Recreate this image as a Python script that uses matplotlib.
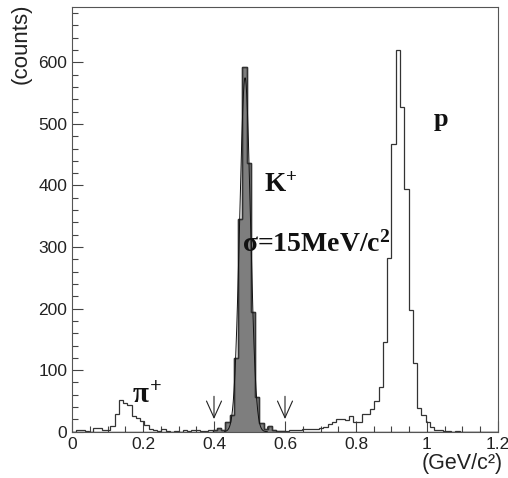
import matplotlib
matplotlib.use("Agg")
import matplotlib.pyplot as plt
import numpy as np

plt.rcParams["mathtext.fontset"] = "custom"
plt.rcParams["mathtext.rm"] = "Liberation Serif:bold"
plt.rcParams["mathtext.it"] = "Liberation Serif:bold"
plt.rcParams["mathtext.bf"] = "Liberation Serif:bold"

# 100 bins from 0 to 1.2 GeV/c^2
bin_lo, bin_hi, n_bins = 0.0, 1.2, 100

# open histogram: pi+ and p
other_counts = [
    0, 2, 2, 1, 0, 6, 6, 2, 3, 10,
    28, 52, 46, 44, 25, 22, 17, 11, 5, 2,
    1, 4, 1, 0, 1, 0, 2, 1, 2, 3,
    1, 1, 2, 0, 0, 0, 0, 0, 0, 0,
    0, 0, 0, 0, 0, 0, 0, 0, 0, 0,
    1, 2, 3, 3, 4, 4, 4, 5, 6, 8,
    13, 16, 21, 21, 19, 26, 16, 16, 29, 29,
    37, 50, 72, 145, 283, 467, 620, 528, 395, 197,
    111, 38, 27, 16, 8, 3, 2, 1, 1, 0,
    1, 0, 0, 0, 0, 0, 0, 0, 0, 0,
]
# shaded histogram: K+
kaon_counts = [0] * 33 + [
    3, 6, 3, 15, 27, 119, 345, 592, 437, 195, 57, 14, 4, 9, 3, 1, 1,
] + [0] * 50

# gaussian fit to the K+ peak
fit_amp, fit_mean, fit_sigma = 575.0, 0.4875, 0.015

edges = np.linspace(bin_lo, bin_hi, n_bins + 1)
total = np.array(other_counts) + np.array(kaon_counts)

fig = plt.figure(figsize=(5.08, 4.78), dpi=100)
ax = fig.add_axes([72 / 508, 46.3 / 478, 426 / 508, 424.7 / 478])

ax.stairs(kaon_counts, edges, fill=True, color="#7e7e7e", zorder=2)
ax.stairs(kaon_counts, edges, color="#1a1a1a", lw=1.0, zorder=3)
ax.stairs(total, edges, color="#333333", lw=0.9, zorder=3)

xf = np.linspace(0.43, 0.55, 300)
ax.plot(xf, fit_amp * np.exp(-0.5 * ((xf - fit_mean) / fit_sigma) ** 2),
        color="#111111", lw=0.7, zorder=4)

for xa in (0.4, 0.6):
    ax.annotate("", xy=(xa, 16), xytext=(xa, 62),
                arrowprops=dict(arrowstyle="->,head_length=1.0,head_width=0.45",
                                lw=0.8, color="#222222", mutation_scale=12))

ax.set_xlim(0, 1.2)
ax.set_ylim(0, 690)
ax.set_xticks(np.arange(0, 1.21, 0.2))
ax.set_xticklabels(["0", "0.2", "0.4", "0.6", "0.8", "1", "1.2"])
ax.set_xticks(np.arange(0, 1.21, 0.05), minor=True)
ax.set_yticks(np.arange(0, 601, 100))
ax.set_yticks(np.arange(0, 690, 20), minor=True)
ax.tick_params(which="both", direction="in", top=False, right=False,
               color="#444444", width=0.8, labelsize=12.5, labelcolor="#222222")
ax.tick_params(which="major", length=8)
ax.tick_params(which="minor", length=4)
for lab in ax.get_xticklabels() + ax.get_yticklabels():
    lab.set_family("Liberation Sans")
for s in ax.spines.values():
    s.set_linewidth(0.8)
    s.set_color("#555555")

fig.text(0.042, 0.992, "(counts)", rotation=90, ha="center", va="top",
         fontsize=16, family="Liberation Sans", color="#222222")
fig.text(0.99, 0.008, "(GeV/c²)", ha="right", va="bottom",
         fontsize=15.5, family="Liberation Sans", color="#222222")

serif = dict(family="Liberation Serif", fontweight="bold", color="#111111")
ax.text(0.168, 46, r"$\pi^{+}$", fontsize=21, **serif)
ax.text(0.54, 390, r"K$^{+}$", fontsize=19.5, **serif)
ax.text(0.478, 292, r"$\sigma$=15MeV/c$^{2}$", fontsize=20, **serif)
ax.text(1.018, 497, "p", fontsize=19, **serif)

fig.savefig("out.png", dpi=100)
